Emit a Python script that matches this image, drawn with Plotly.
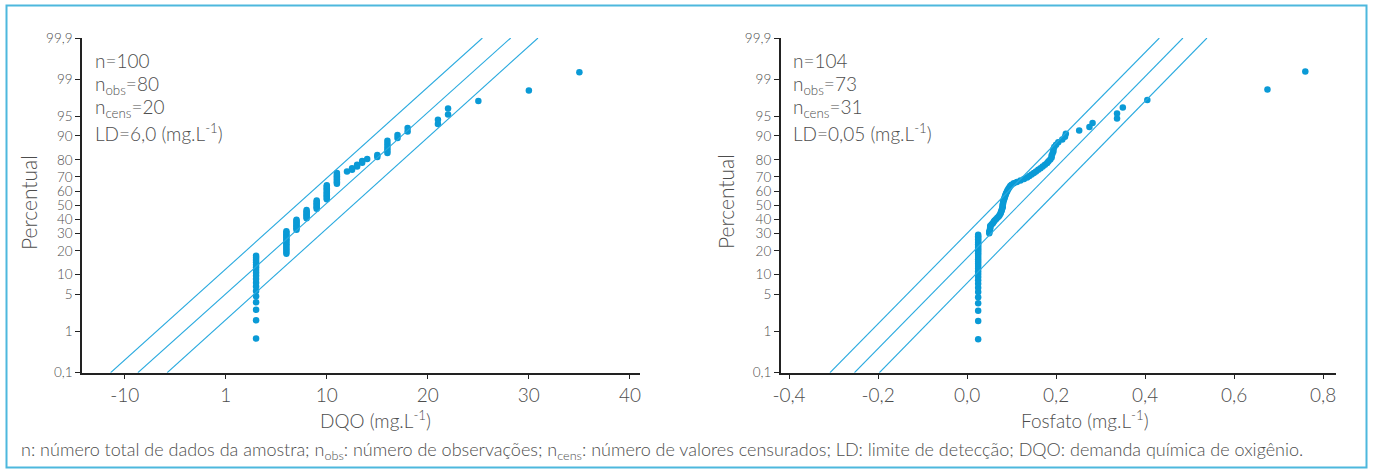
import plotly.graph_objects as go
from statistics import NormalDist

W, H = 1373, 469

# ---------------- data ----------------
pct_ticks = [0.1, 1, 5, 10, 20, 30, 40, 50, 60, 70, 80, 90, 95, 99, 99.9]
pct_labels = ["0,1", "1", "5", "10", "20", "30", "40", "50", "60", "70", "80", "90", "95", "99", "99,9"]

# Left panel: DQO
dqo_values = [3, 6, 7, 8, 9, 10, 11, 12, 12.5, 13, 13.5, 14, 15, 16, 17, 18, 21, 22, 25, 30, 35]
dqo_counts = [18, 14, 8, 7, 7, 11, 8, 1, 2, 2, 2, 1, 2, 6, 2, 2, 2, 2, 1, 1, 1]
dqo_xticks = [-10, 0, 10, 20, 30, 40]
dqo_xlabels = ["-10", "1", "10", "20", "30", "40"]
# fitted line and bounds: x at 0,1 % and at 99,9 %
dqo_line_lo = [-11.4, -8.7, -5.8]
dqo_line_hi = [25.4, 28.2, 30.9]

# Right panel: Fosfato
fos_cens_value = 0.025
fos_cens_count = 31
fos_obs = [0.05, 0.05, 0.051, 0.052, 0.052, 0.052, 0.055, 0.058, 0.06, 0.062, 0.065, 0.068,
           0.071, 0.073, 0.075, 0.076, 0.077, 0.078, 0.079, 0.08, 0.08, 0.08, 0.081, 0.081,
           0.082, 0.083, 0.084, 0.085, 0.086, 0.087, 0.088, 0.09, 0.091, 0.093, 0.095, 0.097,
           0.1, 0.105, 0.112, 0.12, 0.128, 0.135, 0.14, 0.145, 0.15, 0.155, 0.16, 0.165, 0.17,
           0.175, 0.18, 0.183, 0.187, 0.19, 0.19, 0.192, 0.194, 0.194, 0.196, 0.2, 0.205,
           0.214, 0.22, 0.222, 0.252, 0.275, 0.282, 0.337, 0.337, 0.35, 0.405, 0.675, 0.76]
fos_xticks = [-0.4, -0.2, 0.0, 0.2, 0.4, 0.6, 0.8]
fos_xlabels = ["-0,4", "-0,2", "0,0", "0,2", "0,4", "0,6", "0,8"]
fos_line_lo = [-0.308, -0.253, -0.197]
fos_line_hi = [0.432, 0.485, 0.539]

line_pcts = [0.1, 99.9]

# ---------------- helpers ----------------
nd = NormalDist()
def z(p):
    return nd.inv_cdf(p / 100.0)

def positions(n):
    # median-rank plotting positions
    return [z(100.0 * (i - 0.3) / (n + 0.4)) for i in range(1, n + 1)]

dqo_x = []
for v, c in zip(dqo_values, dqo_counts):
    dqo_x += [v] * c
fos_x = [fos_cens_value] * fos_cens_count + fos_obs

POINT = "#0a9ad6"
LINE = "#2aaadf"
TXT = "#4d4d4d"
AX = "#222222"
FONT = "Lato"

fig = go.Figure()

def px_x(p):
    return p / W
def px_y(p):
    return 1 - p / H

ytop, ybot = 38, 372.7
fig.update_layout(
    width=W, height=H,
    margin=dict(l=0, r=0, t=0, b=0),
    paper_bgcolor="white", plot_bgcolor="white",
    showlegend=False, hovermode=False,
    font=dict(family=FONT, color=TXT, weight=300),
)

zr = [z(0.1), z(99.9)]
yaxis_common = dict(
    range=zr, tickvals=[z(p) for p in pct_ticks], ticktext=pct_labels,
    showgrid=False, zeroline=False, showline=True, linecolor=AX, linewidth=1.5,
    ticks="outside", ticklen=5, tickcolor=AX, tickwidth=1,
    tickfont=dict(size=13.5, color=TXT, family=FONT, weight=300), automargin=False,
)
xaxis_common = dict(
    showgrid=False, zeroline=False, showline=True, linecolor=AX, linewidth=1.5,
    ticks="outside", ticklen=5, tickcolor=AX, tickwidth=1,
    tickfont=dict(size=19, color=TXT, family=FONT, weight=300), automargin=False,
)

fig.update_layout(
    xaxis=dict(domain=[px_x(82), px_x(640)], range=[-14.23, 41.0], tickvals=dqo_xticks,
               ticktext=dqo_xlabels, anchor="y", **xaxis_common),
    yaxis=dict(domain=[px_y(ybot), px_y(ytop)], anchor="x", **yaxis_common),
    xaxis2=dict(domain=[px_x(780.7), px_x(1336)], range=[-0.4187, 0.829], tickvals=fos_xticks,
                ticktext=fos_xlabels, anchor="y2", **xaxis_common),
    yaxis2=dict(domain=[px_y(ybot), px_y(ytop)], anchor="x2", **yaxis_common),
)

# fitted lines drawn as line shapes in data coordinates of each panel
for lo, hi in zip(dqo_line_lo, dqo_line_hi):
    fig.add_shape(type="line", xref="x", yref="y", x0=lo, x1=hi,
                  y0=z(line_pcts[0]), y1=z(line_pcts[1]), line=dict(color=LINE, width=1.1))
for lo, hi in zip(fos_line_lo, fos_line_hi):
    fig.add_shape(type="line", xref="x2", yref="y2", x0=lo, x1=hi,
                  y0=z(line_pcts[0]), y1=z(line_pcts[1]), line=dict(color=LINE, width=1.1))

fig.add_trace(go.Scatter(x=dqo_x, y=positions(len(dqo_x)), mode="markers",
                         marker=dict(color=POINT, size=6.5), xaxis="x", yaxis="y"))
fig.add_trace(go.Scatter(x=fos_x, y=positions(len(fos_x)), mode="markers",
                         marker=dict(color=POINT, size=6.5), xaxis="x2", yaxis="y2"))

ann = []
def txt(x, y, s, size=19, xanchor="left", angle=0):
    ann.append(dict(x=px_x(x), y=px_y(y), xref="paper", yref="paper", text=s, showarrow=False,
                    xanchor=xanchor, yanchor="middle", textangle=angle,
                    font=dict(size=size, color=TXT, family=FONT, weight=300)))

left_stats = ["n=100", "n<sub>obs</sub>=80", "n<sub>cens</sub>=20", "LD=6,0 (mg.L<sup>-1</sup>)"]
right_stats = ["n=104", "n<sub>obs</sub>=73", "n<sub>cens</sub>=31", "LD=0,05 (mg.L<sup>-1</sup>)"]
line_y = [60.7, 85, 108, 133]
for s, yy in zip(left_stats, line_y):
    txt(93, yy, s)
for s, yy in zip(right_stats, line_y):
    txt(791, yy, s)

txt(375, 419, "DQO (mg.L<sup>-1</sup>)", xanchor="center")
txt(1085, 419, "Fosfato (mg.L<sup>-1</sup>)", xanchor="center")
txt(28, 202, "Percentual", size=21, xanchor="center", angle=-90)
txt(725, 202, "Percentual", size=21, xanchor="center", angle=-90)

txt(19, 450, "n: número total de dados da amostra; n<sub>obs</sub>: número de observações; "
             "n<sub>cens</sub>: número de valores censurados; LD: limite de detecção; "
             "DQO: demanda química de oxigênio.", size=18)

fig.update_layout(annotations=ann)

fig.add_shape(type="rect", xref="paper", yref="paper",
              x0=px_x(6.5), x1=px_x(1366.5), y0=px_y(467.5), y1=px_y(5.5),
              line=dict(color="#4db8dd", width=2), fillcolor="rgba(0,0,0,0)", layer="below")

fig.write_html("out.html", config={"displayModeBar": False},
               post_script="document.body.style.margin='0px';document.body.style.overflow='hidden';")
